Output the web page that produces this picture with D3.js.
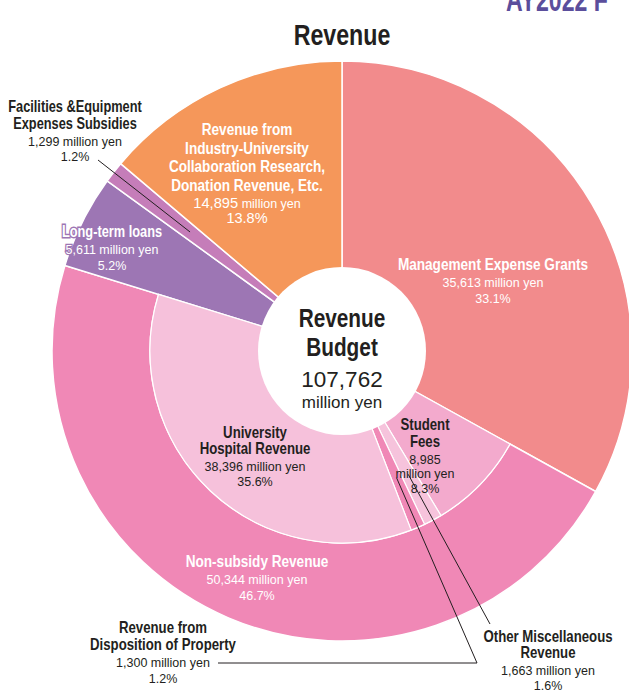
<!DOCTYPE html>
<html>
<head>
<meta charset="utf-8">
<script src="https://cdn.jsdelivr.net/npm/d3@7"></script>
<style>
  body { margin: 0; background: #fff; }
  .cond { font-family: "Liberation Sans", Arial, Helvetica, sans-serif; font-weight: bold; }
  .reg { font-family: "Liberation Sans", Arial, Helvetica, sans-serif; }
</style>
</head>
<body>
<div id="chart"></div>
<script>
// outer ring, clockwise from 12 o'clock
const outerNames = ['Management Expense Grants', 'Non-subsidy Revenue', 'Long-term loans',
  'Facilities &Equipment Expenses Subsidies',
  'Revenue from Industry-University Collaboration Research, Donation Revenue, Etc.'];
const outerValues = [35613, 50344, 5611, 1299, 14895];
const outerPct = ['33.1%', '46.7%', '5.2%', '1.2%', '13.8%'];

// breakdown of Non-subsidy Revenue
const innerNames = ['Student Fees', 'Other Miscellaneous Revenue',
  'Revenue from Disposition of Property', 'University Hospital Revenue'];
const innerValues = [8985, 1663, 1300, 38396];
const innerPct = ['8.3%', '1.6%', '1.2%', '35.6%'];

const totalValue = 107762;

const width = 629;
const height = 691;
const cx = 342, cy = 351;
const R = 290, rMid = 192, rHole = 84;
const dark = '#231f20';
const squeeze = 0.8; // fake a condensed bold face
const fmt = d3.format(',');

const outerColor = d3.scaleOrdinal().domain(outerNames)
  .range(['#f28b8c', '#f088b6', '#9d76b4', '#c57db9', '#f5975a']);
const innerColor = d3.scaleOrdinal().domain(innerNames)
  .range(['#f3aacd', '#f6c3dc', '#f088b6', '#f6c1db']);

const svg = d3.select('#chart').append('svg')
  .attr('width', width)
  .attr('height', height);

function condText(sel, x, y, size, txt, sq) {
  return sel.append('text')
    .attr('class', 'cond')
    .attr('transform', `translate(${x},${y}) scale(${sq || squeeze},1)`)
    .style('font-size', size + 'px')
    .text(txt);
}

// header texts
condText(svg, 506, 11, 34, 'AY2022 F', 0.68).attr('fill', '#5b4e9c');
condText(svg, cx, 45, 29, 'Revenue')
  .attr('text-anchor', 'middle')
  .attr('fill', dark);

const g = svg.append('g')
  .attr('transform', `translate(${cx},${cy})`);

const outerArcs = d3.pie().sort(null)(outerValues);
const nonSub = outerArcs[1];
const innerArcs = d3.pie().sort(null)
  .startAngle(nonSub.startAngle)
  .endAngle(nonSub.endAngle)(innerValues);

const arcFull = d3.arc().innerRadius(0).outerRadius(R);
const arcRing = d3.arc().innerRadius(rMid).outerRadius(R);
const arcInner = d3.arc().innerRadius(0).outerRadius(rMid);

g.selectAll('path.outer').data(outerArcs)
  .enter().append('path')
  .attr('class', 'outer')
  .attr('d', (d, i) => i === 1 ? arcRing(d) : arcFull(d))
  .attr('fill', (d, i) => outerColor(outerNames[i]))
  .attr('stroke', '#fff')
  .attr('stroke-width', 1.5);

g.selectAll('path.inner').data(innerArcs)
  .enter().append('path')
  .attr('class', 'inner')
  .attr('d', arcInner)
  .attr('fill', (d, i) => innerColor(innerNames[i]))
  .attr('stroke', '#fff')
  .attr('stroke-width', 1.2);

g.append('circle')
  .attr('r', rHole)
  .attr('fill', '#fff');

// leader lines
const mid = d => (d.startAngle + d.endAngle) / 2;
const pt = (d, r) => d3.pointRadial(mid(d), r).map((v, k) => v + (k ? cy : cx));
const line = d3.line();
const leaders = [
  [pt(outerArcs[3], 193), [98, 160]],
  [pt(innerArcs[1], 140), [490, 624]],
  [pt(innerArcs[2], 138), [477, 663], [218, 663]]
];
svg.selectAll('path.leader').data(leaders)
  .enter().append('path')
  .attr('class', 'leader')
  .attr('d', line)
  .attr('fill', 'none')
  .attr('stroke', dark)
  .attr('stroke-width', 1);

// center label
const center = svg.append('g').attr('text-anchor', 'middle').attr('fill', dark);
condText(center, cx, 327, 26, 'Revenue');
condText(center, cx, 356, 26, 'Budget');
center.append('text').attr('class', 'reg').attr('x', cx).attr('y', 387)
  .style('font-size', '22.5px').text(fmt(totalValue));
center.append('text').attr('class', 'reg').attr('x', cx).attr('y', 408)
  .style('font-size', '17px').text('million yen');

function label(o) {
  const lg = svg.append('g').attr('text-anchor', 'middle').attr('fill', o.color);
  const gap = o.gap || 18.5;
  let y = o.y;
  o.title.forEach(t => {
    const tx = condText(lg, o.x, y, o.size || 17, t);
    if (o.halo) tx.attr('stroke', o.halo).attr('stroke-width', 3).attr('paint-order', 'stroke');
    y += gap;
  });
  y -= gap - 17;
  o.rest.forEach(r => {
    const tx = lg.append('text').attr('class', 'reg')
      .attr('x', o.x).attr('y', y);
    r.parts.forEach(p => tx.append('tspan').style('font-size', p[1] + 'px').text(p[0]));
    if (o.halo) tx.attr('stroke', o.halo).attr('stroke-width', 2.5).attr('paint-order', 'stroke');
    y += r.step || 15.5;
  });
}

const yen = v => fmt(v) + ' million yen';

label({ x: 493, y: 270, color: '#fff', title: ['Management Expense Grants'],
  rest: [{ parts: [[yen(outerValues[0]), 12.5]] }, { parts: [[outerPct[0], 12.5]] }] });

label({ x: 247, y: 135, color: '#fff',
  title: ['Revenue from', 'Industry-University', 'Collaboration Research,', 'Donation Revenue, Etc.'],
  rest: [{ parts: [[fmt(outerValues[4]), 14.7], [' million yen', 12.5]] }, { parts: [[outerPct[4], 14.5]] }] });

label({ x: 75, y: 112, color: dark, size: 16, gap: 16.5,
  title: ['Facilities &Equipment', 'Expenses Subsidies'],
  rest: [{ parts: [[yen(outerValues[3]), 12.5]] }, { parts: [[outerPct[3], 12.5]] }] });

label({ x: 112, y: 237, color: '#fff', size: 16, halo: '#9d76b4',
  title: ['Long-term loans'],
  rest: [{ parts: [[yen(outerValues[2]), 12.5]] }, { parts: [[outerPct[2], 12.5]] }] });

label({ x: 257, y: 567, color: '#fff', title: ['Non-subsidy Revenue'],
  rest: [{ parts: [[yen(outerValues[1]), 12.5]] }, { parts: [[outerPct[1], 12.5]] }] });

label({ x: 255, y: 438, color: dark, size: 16.5, gap: 15.5,
  title: ['University', 'Hospital Revenue'],
  rest: [{ parts: [[yen(innerValues[3]), 12.5]] }, { parts: [[innerPct[3], 12.5]] }] });

label({ x: 425, y: 430, color: dark, size: 16.5, gap: 17,
  title: ['Student', 'Fees'],
  rest: [{ parts: [[fmt(innerValues[0]), 12.5]], step: 13.5 }, { parts: [['million yen', 12.5]], step: 15 },
    { parts: [[innerPct[0], 12.5]] }] });

label({ x: 163, y: 633, color: dark, size: 16.5, gap: 17,
  title: ['Revenue from', 'Disposition of Property'],
  rest: [{ parts: [[yen(innerValues[2]), 12.5]], step: 16 }, { parts: [[innerPct[2], 12.5]] }] });

label({ x: 548, y: 642, color: dark, size: 16.5, gap: 15.5,
  title: ['Other Miscellaneous', 'Revenue'],
  rest: [{ parts: [[yen(innerValues[1]), 12.5]] }, { parts: [[innerPct[1], 12.5]] }] });
</script>
</body>
</html>
